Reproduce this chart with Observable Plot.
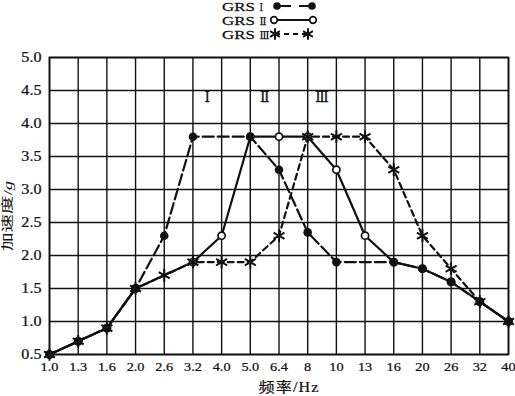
<!DOCTYPE html>
<html><head><meta charset="utf-8">
<script src="https://cdn.jsdelivr.net/npm/d3@7"></script>
<script src="https://cdn.jsdelivr.net/npm/@observablehq/plot@0.6"></script>
<style>
body{margin:0;background:#fff;}
#wrap{width:515px;height:396px;overflow:hidden;background:#fff;}
#wrap svg{display:block;}
</style>
</head><body><div id="wrap"></div>
<script>
// categories (equally spaced frequency axis)
const freqLabels = ["1.0","1.3","1.6","2.0","2.6","3.2","4.0","5.0","6.4","8","10","13","16","20","26","32","40"];
const yTicks = [0.5,1.0,1.5,2.0,2.5,3.0,3.5,4.0,4.5,5.0];
const seriesPrefix = "GRS";
const seriesNumerals = ["Ⅰ","Ⅱ","Ⅲ"];
// GRS I
const grs1Freq = ["1.0","1.3","1.6","2.0","2.6","3.2","5.0","6.4","8","10","16","20","26","32","40"];
const grs1Acc  = [0.5,0.7,0.9,1.5,2.3,3.8,3.8,3.3,2.35,1.9,1.9,1.8,1.6,1.3,1.0];
// GRS II
const grs2Freq = ["1.0","1.3","1.6","2.0","3.2","4.0","5.0","6.4","8","10","13","16","20","26","32","40"];
const grs2Acc  = [0.5,0.7,0.9,1.5,1.9,2.3,3.8,3.8,3.8,3.3,2.3,1.9,1.8,1.6,1.3,1.0];
// GRS III
const grs3Freq = ["1.0","1.3","1.6","2.0","2.6","3.2","4.0","5.0","6.4","8","10","13","16","20","26","32","40"];
const grs3Acc  = [0.5,0.7,0.9,1.5,1.7,1.9,1.9,1.9,2.3,3.8,3.8,3.8,3.3,2.3,1.8,1.3,1.0];
// region labels: placed between a frequency and the next one
const regionLabels = ["Ⅰ","Ⅱ","Ⅲ"];
const regionFrom = ["3.2","5.0","8"];
const regionAcc = 4.4;

const idx = f => freqLabels.indexOf(f);
const rows = (freqs, accs) => freqs.map((f,i)=>({x: idx(f), y: accs[i]}));
const s1 = rows(grs1Freq, grs1Acc);
const s2 = rows(grs2Freq, grs2Acc);
const s3 = rows(grs3Freq, grs3Acc);
const regions = regionLabels.map((t,i)=>({t, x: idx(regionFrom[i]) + 0.5, y: regionAcc}));

const serif = "'Liberation Serif','DejaVu Serif','Noto Sans CJK SC',serif";
const ink = "#111";

// ---- legend (above the chart)
const legend = d3.create("svg").attr("width",515).attr("height",50)
  .style("font-family", serif);
const rowsY = [6,20,34];
const numeralWidth = [3.5, 7, 10];
seriesNumerals.forEach((n,i)=>{
  const y = rowsY[i] + 4.5;
  legend.append("text").attr("transform",`translate(222,${y}) scale(1.3,1)`)
    .attr("fill",ink).style("font-size","13px")
    .style("stroke", ink).style("stroke-width", 0.25).text(seriesPrefix + " ");
  legend.append("text").attr("x",259.5).attr("y",y).attr("fill",ink)
    .style("font-size","11.5px").style("stroke", ink).style("stroke-width", 0.25)
    .attr("textLength", numeralWidth[i]).attr("lengthAdjust","spacingAndGlyphs").text(n);
});
// I
legend.append("line").attr("x1",277).attr("x2",312).attr("y1",6).attr("y2",6)
  .attr("stroke",ink).attr("stroke-width",2.2).attr("stroke-dasharray","14,8");
legend.append("circle").attr("cx",277).attr("cy",6).attr("r",3.8).attr("fill",ink);
legend.append("circle").attr("cx",312).attr("cy",6).attr("r",3.8).attr("fill",ink);
// II
legend.append("line").attr("x1",274).attr("x2",313).attr("y1",20).attr("y2",20)
  .attr("stroke",ink).attr("stroke-width",2.2);
legend.append("circle").attr("cx",274).attr("cy",20).attr("r",3.3).attr("fill","#fff").attr("stroke",ink).attr("stroke-width",1.7);
legend.append("circle").attr("cx",313).attr("cy",20).attr("r",3.3).attr("fill","#fff").attr("stroke",ink).attr("stroke-width",1.7);
// III
legend.append("line").attr("x1",275).attr("x2",308).attr("y1",34).attr("y2",34)
  .attr("stroke",ink).attr("stroke-width",2.2).attr("stroke-dasharray","5,4");
[275,308].forEach(cx=>{
  legend.append("path").attr("transform",`translate(${cx},34)`)
    .attr("d", d3.symbol(d3.symbolAsterisk, 90)())
    .attr("fill","none").attr("stroke",ink).attr("stroke-width",2);
});
document.getElementById("wrap").append(legend.node());

// ---- chart
const chart = Plot.plot({
  width: 515, height: 346,
  marginTop: 7, marginBottom: 42, marginLeft: 49, marginRight: 7,
  style: {fontFamily: serif, fontSize: "13px", color: ink, background: "#fff"},
  x: {domain: [0, 16], ticks: d3.range(17), tickFormat: i => freqLabels[i], tickSize: 0, tickPadding: 7, label: null},
  y: {domain: [0.5, 5], ticks: yTicks, tickFormat: d => d.toFixed(1), tickSize: 0, tickPadding: 8, label: null},
  marks: [
    Plot.ruleX(d3.range(17), {stroke: ink, strokeWidth: 1.4}),
    Plot.ruleY(yTicks, {stroke: ink, strokeWidth: 1.4}),
    Plot.frame({stroke: ink, strokeWidth: 1.7}),
    Plot.line(s3, {x: "x", y: "y", stroke: ink, strokeWidth: 2.2, strokeDasharray: "6,4"}),
    Plot.line(s2, {x: "x", y: "y", stroke: ink, strokeWidth: 2.2}),
    Plot.line(s1, {x: "x", y: "y", stroke: ink, strokeWidth: 2.2, strokeDasharray: "11,4"}),
    Plot.dot(s2, {x: "x", y: "y", r: 3.6, fill: "#fff", stroke: ink, strokeWidth: 1.7}),
    Plot.dot(s1, {x: "x", y: "y", r: 4.3, fill: ink}),
    Plot.dot(s3, {x: "x", y: "y", symbol: "asterisk", r: 6, stroke: ink, strokeWidth: 2}),
    Plot.text(regions, {x: "x", y: "y", text: "t", fontSize: 14, fill: ink, fontFamily: "'DejaVu Serif','Liberation Serif',serif", stroke: ink, strokeWidth: 0.3})
  ]
});
const svg = d3.select(chart);
// slightly widen / darken tick labels like the reference
svg.selectAll("[aria-label='x-axis tick label'] text")
  .style("stroke", ink).style("stroke-width", 0.25)
  .attr("transform", function(){ const t = this.getAttribute("transform")||""; return t + " scale(1.1,1)"; });
svg.selectAll("[aria-label='y-axis tick label'] text")
  .style("font-size","14px").style("stroke", ink).style("stroke-width", 0.25)
  .attr("transform", function(){ const t = this.getAttribute("transform")||""; return t + " scale(1.15,1)"; });
// axis titles
svg.append("text").attr("transform","translate(289,342) scale(1.15,1)")
  .attr("text-anchor","middle").attr("fill", ink)
  .style("font-family", serif).style("font-size","14px").style("letter-spacing","1px")
  .style("stroke", ink).style("stroke-width", 0.2)
  .text("频率/Hz");
const yt = svg.append("text").attr("transform","translate(12,166) rotate(-90) scale(1.55,1)")
  .attr("text-anchor","middle").attr("fill", ink)
  .style("font-family", serif).style("font-size","12px");
yt.append("tspan").text("加速度/");
yt.append("tspan").style("font-style","italic").text("g");
document.getElementById("wrap").append(chart);
</script>
</body></html>
